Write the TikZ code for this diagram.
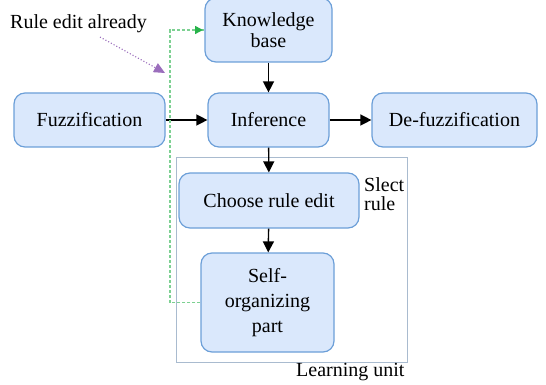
\documentclass[tikz,border=0pt]{standalone}
\usepackage{fontspec}
\setmainfont{Liberation Serif}
\usetikzlibrary{arrows.meta}
\definecolor{boxfill}{HTML}{DAE8FC}
\definecolor{boxline}{HTML}{6C9FD8}
\definecolor{unitline}{HTML}{A9BBCF}
\definecolor{editgreen}{HTML}{27B34A}
\definecolor{editpurple}{HTML}{7030A0}
\tikzset{
  block/.style={draw=boxline, fill=boxfill, line width=1.2pt, rounded corners=11pt, align=center, inner sep=0pt},
  flow/.style={-{Triangle[width=11pt,length=11pt]}, line width=1.4pt},
}
\begin{document}
\begin{tikzpicture}[x=1pt, y=-1pt, font=\fontsize{20}{21}\selectfont]
    \useasboundingbox (0,0) rectangle (546,385);

    \node[draw=unitline, line width=1pt, minimum width=231pt, minimum height=205pt, inner sep=0pt] (unit) at (291.5,259.5) {};
    \node[anchor=north east] (lu) at (408,360) {Learning unit};

    \node[block, minimum width=127pt, minimum height=64pt] (kb) at (268.5,30) {Knowledge\\base};
    \node[block, minimum width=151pt, minimum height=54pt] (fuzz) at (89.5,120) {Fuzzification};
    \node[block, minimum width=121pt, minimum height=54pt] (inf) at (268.5,120) {Inference};
    \node[block, minimum width=165pt, minimum height=54pt] (defuzz) at (454.5,120) {De-fuzzification};

    \node[block, minimum width=180pt, minimum height=55pt] (choose) at (269,200.5) {Choose rule edit};
    \node[block, minimum width=133pt, minimum height=99pt, font=\fontsize{20}{25}\selectfont] (self) at (267.5,302.5) {Self-\\organizing\\part};
    \node[align=left, anchor=north west, inner sep=0pt, font=\fontsize{20}{19}\selectfont] (slect) at (364,177) {Slect\\rule};

    \draw[flow] (kb) -- (inf);
    \draw[flow] (fuzz) -- (inf);
    \draw[flow] (inf) -- (defuzz);
    \draw[flow] (inf) -- (choose);
    \draw[flow] (choose) -- (self);

    % rule edited, back to the knowledge base
    \coordinate (gbot) at (170,302.5);
    \coordinate (gtop) at (170,30);
    \draw[editgreen!60, line width=1.3pt, dash pattern=on 3pt off 2pt] (self.west) -- (gbot) -- (gtop) -- (kb.west);
    \draw[-{Triangle[width=10pt,length=10pt]}, editgreen, line width=1.2pt, draw opacity=0] (gtop) -- (kb.west);

    \node[anchor=north west, inner sep=0pt] (already) at (10,14) {Rule edit already};
    \coordinate (ptip) at (165,73);
    \draw[-{Triangle[width=10pt,length=11pt]}, editpurple!70, line width=1.1pt, dotted] (100,37) -- (ptip);
\end{tikzpicture}
\end{document}
